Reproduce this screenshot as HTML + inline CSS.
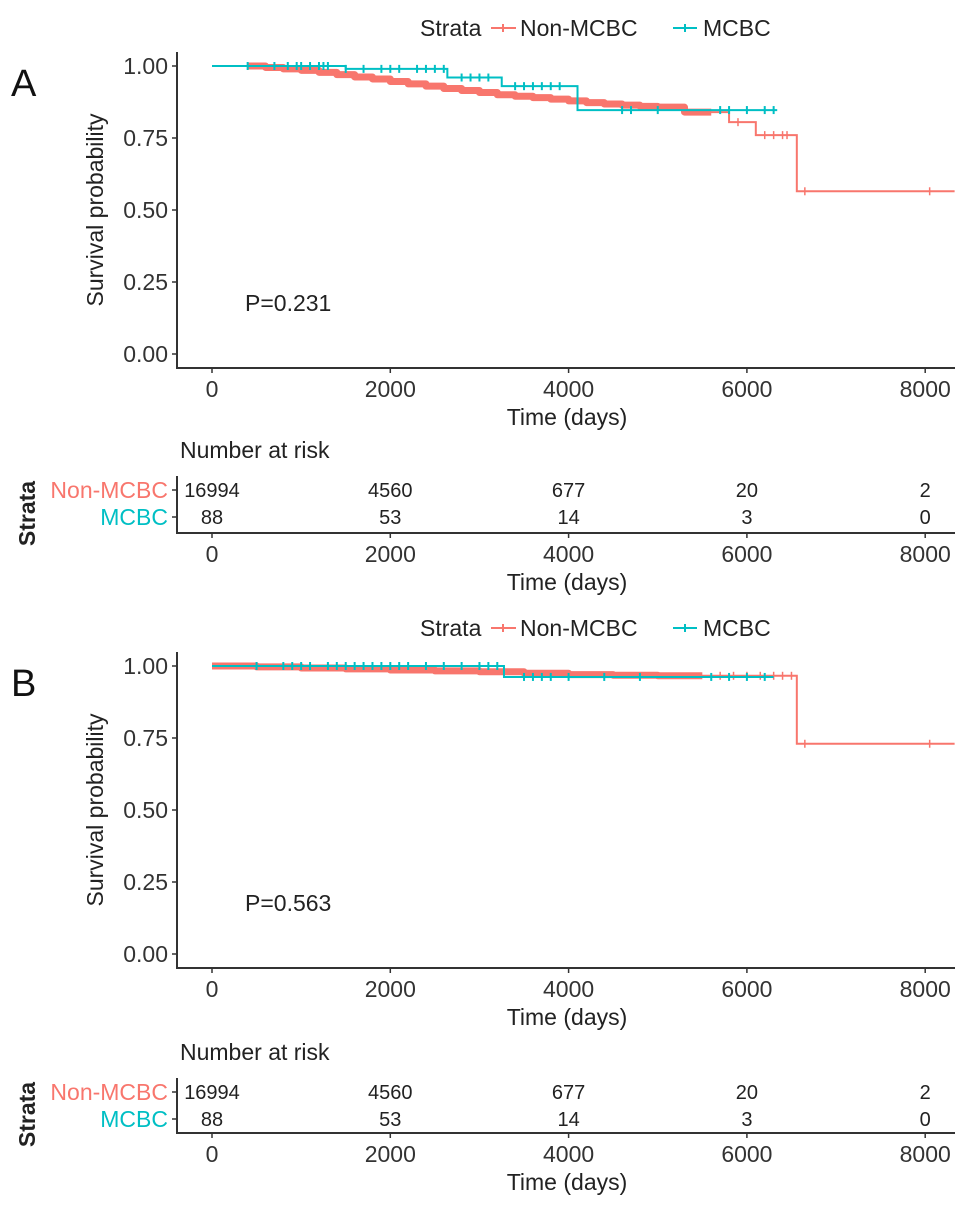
<!DOCTYPE html>
<html><head><meta charset="utf-8"><style>
html,body{margin:0;padding:0;background:#fff;}
svg{display:block;font-family:"Liberation Sans",Arial,sans-serif;}
</style></head><body>
<svg id="fig" width="969" height="1209" viewBox="0 0 969 1209" xmlns="http://www.w3.org/2000/svg"></svg>
<script>
// ---- data ----
const xTicks = [0, 2000, 4000, 6000, 8000];
const yTicks = [0, 0.25, 0.5, 0.75, 1.0];
const yTickLabels = ["0.00", "0.25", "0.50", "0.75", "1.00"];
const strata = ["Non-MCBC", "MCBC"];
const riskTimes = [0, 2000, 4000, 6000, 8000];
const riskNonA = [16994, 4560, 677, 20, 2];
const riskMcbcA = [88, 53, 14, 3, 0];
const riskNonB = [16994, 4560, 677, 20, 2];
const riskMcbcB = [88, 53, 14, 3, 0];
const pValueA = "P=0.231";
const pValueB = "P=0.563";
// Panel A Non-MCBC step curve
const nonTimesA = [400, 600, 800, 1000, 1200, 1400, 1600, 1800, 2000, 2200, 2400, 2600, 2800, 3000, 3200, 3400, 3600, 3800, 4000, 4200, 4400, 4600, 4800, 5000, 5300, 5800, 6100, 6560, 8330];
const nonSurvA  = [1.0, 0.995, 0.99, 0.985, 0.978, 0.97, 0.962, 0.955, 0.946, 0.938, 0.93, 0.922, 0.915, 0.908, 0.90, 0.895, 0.89, 0.885, 0.879, 0.873, 0.868, 0.864, 0.86, 0.857, 0.84, 0.805, 0.76, 0.565, 0.565];
const nonDenseEndA = 5600;
const nonCensorA = [5900, 6200, 6300, 6400, 6450, 6650, 8050];
// Panel A MCBC
const mcbcTimesA = [0, 1500, 2640, 3250, 4100, 6340];
const mcbcSurvA  = [1.0, 0.99, 0.96, 0.93, 0.847, 0.847];
const mcbcCensorA = [400, 700, 850, 950, 1000, 1100, 1200, 1250, 1300, 1500, 1700, 1900, 2000, 2100, 2300, 2400, 2500, 2600, 2800, 2900, 3000, 3100, 3400, 3500, 3600, 3700, 3800, 3900, 4600, 4700, 5000, 5700, 5800, 6000, 6200, 6300];
// Panel B Non-MCBC
const nonTimesB = [0, 500, 1000, 1500, 2000, 2500, 3000, 3500, 4000, 4500, 5000, 6560, 8330];
const nonSurvB  = [1.0, 0.997, 0.993, 0.99, 0.986, 0.983, 0.98, 0.975, 0.97, 0.968, 0.966, 0.73, 0.73];
const nonDenseEndB = 5500;
const nonCensorB = [5700, 5850, 6000, 6150, 6300, 6400, 6500, 6650, 8050];
// Panel B MCBC
const mcbcTimesB = [0, 3275, 6300];
const mcbcSurvB  = [1.0, 0.962, 0.962];
const mcbcCensorB = [500, 800, 900, 1000, 1100, 1300, 1400, 1500, 1600, 1700, 1800, 1900, 2000, 2100, 2200, 2400, 2600, 2800, 3000, 3100, 3200, 3500, 3600, 3700, 3800, 4000, 4400, 4800, 5600, 5800, 6000, 6200];

const RED = "#F8766D", TEAL = "#00BFC4", INK = "#333";
const svg = document.getElementById('fig');
const NS = "http://www.w3.org/2000/svg";
function mk(tag, attrs, parent) {
  const e = document.createElementNS(NS, tag);
  for (const k in attrs) e.setAttribute(k, attrs[k]);
  (parent || svg).appendChild(e);
  return e;
}
function txt(s, attrs, parent) { const e = mk('text', attrs, parent); e.textContent = s; return e; }

function panel(o) {
  const g = mk('g', {});
  
  
  const X = t => 212 + t * (178.3 / 2000);
  const Y = s => o.y0 - s * 288;
  const top = o.y0 - 302, axisY = o.y0 + 14, xEnd = 955;

  const L = txt(o.letter, {x: 11, y: top + 44, 'font-size': 38, fill: '#111'}, g);
   

  const lg = mk('g', {}, g);
   
  const ly = top - 24;
  txt("Strata", {x: 420, y: ly + 8, 'font-size': 23, fill: '#222'}, lg);
  const e1 = mk('g', {}, lg);
   
  mk('line', {x1: 491, x2: 516, y1: ly, y2: ly, stroke: RED, 'stroke-width': 2}, e1);
  mk('line', {x1: 503, x2: 503, y1: ly - 4, y2: ly + 4, stroke: RED, 'stroke-width': 2}, e1);
  txt("Non-MCBC", {x: 520, y: ly + 8, 'font-size': 23, fill: '#222'}, e1);
  const e2 = mk('g', {}, lg);
   
  mk('line', {x1: 673, x2: 697, y1: ly, y2: ly, stroke: TEAL, 'stroke-width': 2}, e2);
  mk('line', {x1: 685, x2: 685, y1: ly - 4, y2: ly + 4, stroke: TEAL, 'stroke-width': 2}, e2);
  txt("MCBC", {x: 703, y: ly + 8, 'font-size': 23, fill: '#222'}, e2);

  const ax = mk('g', {}, g);
   
  mk('line', {x1: 177, x2: 177, y1: top, y2: axisY + 1, stroke: INK, 'stroke-width': 2}, ax);
  mk('line', {x1: 176, x2: xEnd, y1: axisY, y2: axisY, stroke: INK, 'stroke-width': 2}, ax);
  yTicks.forEach((v, i) => {
    mk('line', {x1: 172, x2: 177, y1: Y(v), y2: Y(v), stroke: INK, 'stroke-width': 1.5}, ax);
    const t = txt(yTickLabels[i], {x: 168, y: Y(v) + 8, 'font-size': 23, 'text-anchor': 'end', fill: '#333'}, ax);
     
  });
  xTicks.forEach(v => {
    mk('line', {x1: X(v), x2: X(v), y1: axisY, y2: axisY + 5, stroke: INK, 'stroke-width': 1.5}, ax);
    const t = txt(String(v), {x: X(v), y: axisY + 29, 'font-size': 23, 'text-anchor': 'middle', fill: '#333'}, ax);
     
  });
  const yt = txt("Survival probability", {x: 0, y: 0, 'font-size': 23, 'text-anchor': 'middle', fill: '#222',
    transform: `translate(103,${top + 158}) rotate(-90)`}, ax);
   
  const xt = txt("Time (days)", {x: 567, y: axisY + 57, 'font-size': 23, 'text-anchor': 'middle', fill: '#222'}, ax);
   

  const pv = txt(o.p, {x: 245, y: o.y0 - 43, 'font-size': 23, fill: '#222'}, g);
   

  function stepPath(ts, ss, tMax) {
    let d = `M${X(ts[0])},${Y(ss[0])}`;
    for (let i = 1; i < ts.length; i++) {
      if (tMax !== undefined && ts[i] > tMax) { d += ` H${X(tMax)}`; break; }
      d += ` H${X(ts[i])} V${Y(ss[i])}`;
    }
    return d;
  }
  function survAt(ts, ss, t) { let s = ss[0]; for (let i = 0; i < ts.length; i++) if (ts[i] <= t) s = ss[i]; return s; }

  const cn = mk('g', {}, g);
   
  mk('path', {d: stepPath(o.nonT, o.nonS, o.dense), fill: 'none', stroke: RED, 'stroke-width': 7, 'stroke-linejoin': 'round'}, cn);
  mk('path', {d: stepPath(o.nonT, o.nonS), fill: 'none', stroke: RED, 'stroke-width': 2}, cn);
  o.nonC.forEach(t => {
    const s = survAt(o.nonT, o.nonS, t);
    mk('line', {x1: X(t), x2: X(t), y1: Y(s) - 4, y2: Y(s) + 4, stroke: RED, 'stroke-width': 1.5}, cn);
  });
  const cm = mk('g', {}, g);
   
  mk('path', {d: stepPath(o.mT, o.mS), fill: 'none', stroke: TEAL, 'stroke-width': 2}, cm);
  o.mC.forEach(t => {
    const s = survAt(o.mT, o.mS, t);
    mk('line', {x1: X(t), x2: X(t), y1: Y(s) - 4, y2: Y(s) + 4, stroke: TEAL, 'stroke-width': 2}, cm);
  });

  const rt = mk('g', {}, g);
   
  const r1 = o.r1, r2 = o.r2, rAx = o.rAx;
  txt("Number at risk", {x: 180, y: r1 - 32, 'font-size': 23, fill: '#222'}, rt);
  const st = txt("Strata", {x: 0, y: 0, 'font-size': 23, 'text-anchor': 'middle', fill: '#222', 'font-weight': 'bold',
    transform: `translate(35,${(r1 + rAx) / 2 + 2}) rotate(-90)`}, rt);
   
  mk('line', {x1: 177, x2: 177, y1: r1 - 14, y2: rAx + 1, stroke: INK, 'stroke-width': 2}, rt);
  mk('line', {x1: 176, x2: xEnd, y1: rAx, y2: rAx, stroke: INK, 'stroke-width': 2}, rt);
  [[r1, RED, strata[0], o.rn], [r2, TEAL, strata[1], o.rm]].forEach(([ry, col, name, vals]) => {
    mk('line', {x1: 172, x2: 177, y1: ry, y2: ry, stroke: INK, 'stroke-width': 1.5}, rt);
    const lb = txt(name, {x: 168, y: ry + 8, 'font-size': 23, 'text-anchor': 'end', fill: col}, rt);
     
    vals.forEach((v, i) => {
      const c = txt(String(v), {x: X(riskTimes[i]), y: ry + 7, 'font-size': 20, 'text-anchor': 'middle', fill: '#222'}, rt);
       
    });
  });
  xTicks.forEach(v => {
    mk('line', {x1: X(v), x2: X(v), y1: rAx, y2: rAx + 5, stroke: INK, 'stroke-width': 1.5}, rt);
    txt(String(v), {x: X(v), y: rAx + 29, 'font-size': 23, 'text-anchor': 'middle', fill: '#333'}, rt);
  });
  txt("Time (days)", {x: 567, y: rAx + 57, 'font-size': 23, 'text-anchor': 'middle', fill: '#222'}, rt);
}

panel({letter: 'A', y0: 354, p: pValueA, nonT: nonTimesA, nonS: nonSurvA, dense: nonDenseEndA, nonC: nonCensorA,
  mT: mcbcTimesA, mS: mcbcSurvA, mC: mcbcCensorA, r1: 490, r2: 517, rAx: 533, rn: riskNonA, rm: riskMcbcA});
panel({letter: 'B', y0: 954, p: pValueB, nonT: nonTimesB, nonS: nonSurvB, dense: nonDenseEndB, nonC: nonCensorB,
  mT: mcbcTimesB, mS: mcbcSurvB, mC: mcbcCensorB, r1: 1092, r2: 1119, rAx: 1133, rn: riskNonB, rm: riskMcbcB});
</script>
</body></html>
